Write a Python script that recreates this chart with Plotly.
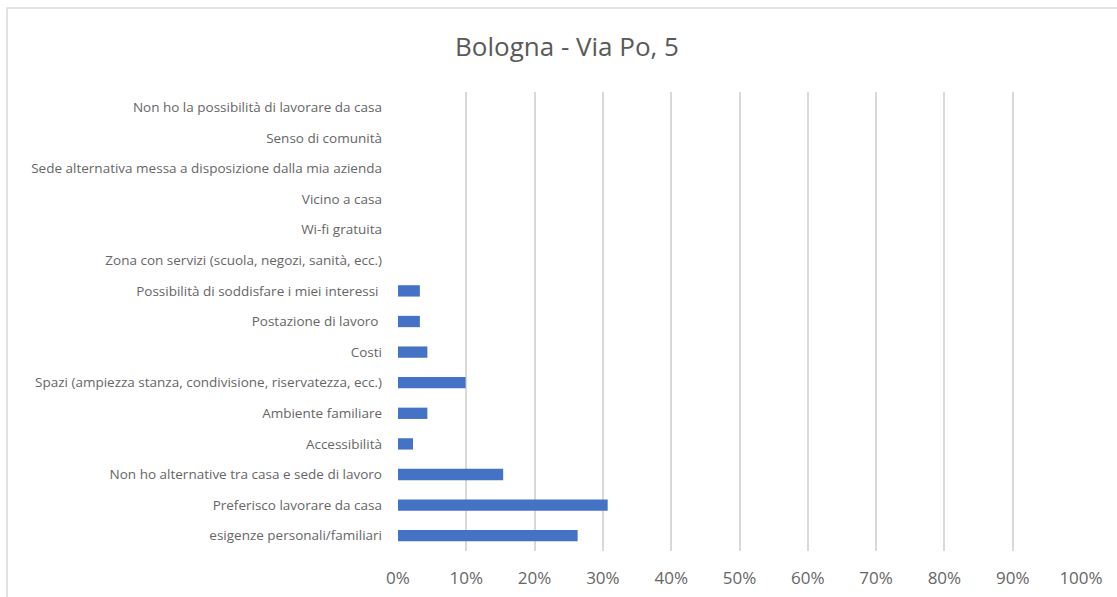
import plotly.graph_objects as go

categories = [
    "esigenze personali/familiari",
    "Preferisco lavorare da casa",
    "Non ho alternative tra casa e sede di lavoro",
    "Accessibilità",
    "Ambiente familiare",
    "Spazi (ampiezza stanza, condivisione, riservatezza, ecc.)",
    "Costi",
    "Postazione di lavoro ",
    "Possibilità di soddisfare i miei interessi ",
    "Zona con servizi (scuola, negozi, sanità, ecc.)",
    "Wi-fi gratuita",
    "Vicino a casa",
    "Sede alternativa messa a disposizione dalla mia azienda",
    "Senso di comunità",
    "Non ho la possibilità di lavorare da casa",
]
values = [0.263, 0.307, 0.154, 0.022, 0.043, 0.099, 0.043, 0.032, 0.032, 0, 0, 0, 0, 0, 0]
tick_vals = [i / 10 for i in range(11)]
tick_text = [f"{i*10}%" for i in range(11)]
title = "Bologna - Via Po, 5"

W, H = 1117, 597
L, R, T, B = 398, 1081, 92, 551
pw, ph = R - L, B - T

fig = go.Figure(go.Bar(
    y=categories, x=values, orientation="h",
    marker=dict(color="#4472C4", line=dict(width=0)),
    width=0.37,
))

def px(x):
    return (x - L) / pw

def py(y):
    return (B - y) / ph

fig.add_shape(type="rect", xref="paper", yref="paper",
              x0=px(7), x1=px(1130), y0=py(610), y1=py(8),
              line=dict(color="#D9D9D9", width=1.5), fillcolor="rgba(0,0,0,0)", layer="below")

fig.update_layout(
    width=W, height=H,
    margin=dict(l=L, r=W - R, t=T, b=H - B, autoexpand=False),
    paper_bgcolor="white", plot_bgcolor="white",
    title=dict(text=title, x=567 / W, xanchor="center", y=1 - 47 / H, yanchor="middle",
               xref="container", yref="container",
               font=dict(family="Open Sans, DejaVu Sans", size=26, color="#595959")),
    font=dict(family="Open Sans, DejaVu Sans", color="#595959"),
    showlegend=False,
    bargap=0.63,
)
fig.update_xaxes(range=[0, 1], tickvals=tick_vals, ticktext=tick_text,
                 showgrid=True, gridcolor="#D9D9D9", gridwidth=1.5,
                 zeroline=False, showline=False, ticks="", automargin=False,
                 tickfont=dict(size=17, color="#666666"), ticklabelstandoff=15)
fig.update_yaxes(categoryorder="array", categoryarray=categories,
                 showgrid=False, zeroline=False, showline=False, ticks="", automargin=False,
                 tickfont=dict(size=13.5, color="#666666"), ticklabelstandoff=15)

fig.write_html("out.html", config={"displayModeBar": False},
               post_script="document.body.style.margin='0';document.body.style.padding='0';")
